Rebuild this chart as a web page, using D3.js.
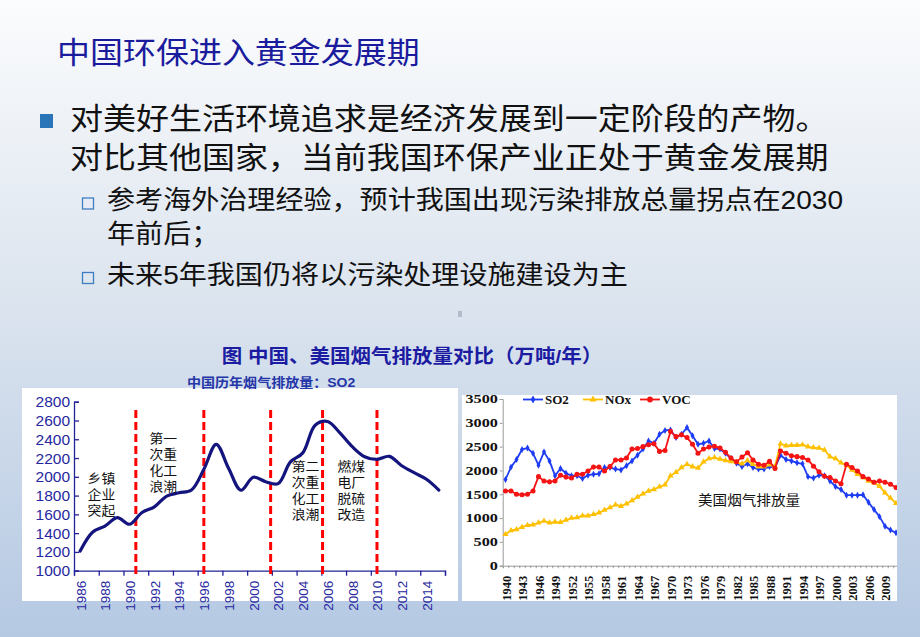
<!DOCTYPE html>
<html><head><meta charset="utf-8">
<script src="https://cdn.jsdelivr.net/npm/d3@7"></script>
<style>body{margin:0;overflow:hidden;background:#fff}svg{display:block}</style>
</head><body><svg id="c" width="920" height="637"></svg>
<script>
// ---------------- DATA ----------------
const slideTitle = "中国环保进入黄金发展期";
const bulletLines = ["对美好生活环境追求是经济发展到一定阶段的产物。", "对比其他国家，当前我国环保产业正处于黄金发展期"];
const subBullet1 = ["参考海外治理经验，预计我国出现污染排放总量拐点在2030", "年前后；"];
const subBullet2 = ["未来5年我国仍将以污染处理设施建设为主"];
const chartTitle = "图 中国、美国烟气排放量对比（万吨/年）";
const chinaSubtitle = "中国历年烟气排放量：SO2";

const chinaYears = d3.range(1986, 2016);
const chinaSO2 = [1210, 1410, 1475, 1565, 1495, 1620, 1680, 1795, 1830, 1860,
                  2080, 2346, 2090, 1857, 1995, 1948, 1927, 2159, 2255, 2549,
                  2589, 2468, 2321, 2214, 2185, 2218, 2118, 2044, 1974, 1859];
const chinaYTicks = [1000, 1200, 1400, 1600, 1800, 2000, 2200, 2400, 2600, 2800];
const chinaXLabels = d3.range(1986, 2015, 2);
const phaseYears = [1990.5, 1996, 2001.4, 2005.6, 2010];
const phaseNotes = [
  {year: 1986.6, top: 478, lines: ["乡镇", "企业", "突起"]},
  {year: 1991.6, top: 438, lines: ["第一", "次重", "化工", "浪潮"]},
  {year: 2003.1, top: 466, lines: ["第二", "次重", "化工", "浪潮"]},
  {year: 2006.8, top: 466, lines: ["燃煤", "电厂", "脱硫", "改造"]}
];

const usYears = d3.range(1940, 2012);
const usSO2 = [1810, 2070, 2230, 2440, 2470, 2360, 2110, 2390, 2200, 1890,
               2040, 1940, 1890, 1890, 1830, 1900, 1920, 1930, 2060, 2060,
               2030, 2010, 2100, 2200, 2320, 2450, 2620, 2570, 2760, 2840,
               2850, 2690, 2760, 2900, 2730, 2550, 2570, 2620, 2460, 2450,
               2360, 2250, 2150, 2080, 2140, 2060, 2030, 2030, 2080, 2060,
               2320, 2230, 2200, 2160, 2140, 1870, 1840, 1900, 1890, 1780,
               1660, 1600, 1480, 1480, 1480, 1490, 1330, 1180, 1030, 830,
               750, 690];
const usNOx = [660, 740, 760, 810, 850, 860, 900, 940, 900, 920,
               910, 960, 1000, 1010, 1050, 1050, 1080, 1110, 1170, 1220,
               1280, 1250, 1300, 1370, 1440, 1510, 1570, 1600, 1660, 1700,
               1890, 1960, 2060, 2130, 2080, 2050, 2180, 2250, 2270, 2240,
               2210, 2190, 2170, 2140, 2210, 2130, 2080, 2080, 2120, 2090,
               2560, 2520, 2530, 2530, 2540, 2500, 2480, 2470, 2430, 2290,
               2250, 2160, 2110, 2010, 1920, 1850, 1780, 1740, 1670, 1530,
               1420, 1310];
const usVOC = [1570, 1570, 1500, 1490, 1500, 1570, 1870, 1780, 1760, 1780,
               1900, 1860, 1840, 1920, 1920, 1990, 2070, 2070, 1990, 2080,
               2220, 2220, 2260, 2450, 2460, 2500, 2540, 2560, 2400, 2420,
               2820, 2710, 2750, 2690, 2550, 2360, 2450, 2490, 2510, 2470,
               2380, 2260, 2180, 2280, 2370, 2220, 2130, 2110, 2190, 2040,
               2410, 2360, 2310, 2290, 2270, 2220, 2090, 1970, 1880, 1850,
               1780, 1720, 2130, 2060, 1990, 1870, 1820, 1750, 1780, 1750,
               1710, 1640];
const usSeriesNames = ["SO2", "NOx", "VOC"];
const usYTicks = [0, 500, 1000, 1500, 2000, 2500, 3000, 3500];
const usXLabels = d3.range(1940, 2010, 3);
const usNote = "美国烟气排放量";

// ---------------- DRAW ----------------
const svg = d3.select("#c");
const CJK = "'Liberation Sans','Noto Sans CJK SC',sans-serif";
const defs = svg.append("defs");
const bg = defs.append("linearGradient").attr("id", "bg").attr("x1", 0).attr("y1", 0).attr("x2", 0).attr("y2", 1);
bg.append("stop").attr("offset", "0%").attr("stop-color", "#fbfcfd");
bg.append("stop").attr("offset", "45%").attr("stop-color", "#dde5ef");
bg.append("stop").attr("offset", "100%").attr("stop-color", "#b5c9e3");
svg.append("rect").attr("width", 920).attr("height", 637).attr("fill", "url(#bg)");

function stext(parent, x, y, str, o) {
  const sx = o.sx || 1.08;
  return parent.append("text")
    .attr("transform", `translate(${x},${y}) scale(${sx},1)`)
    .attr("text-anchor", o.anchor || "start")
    .attr("font-family", o.family || CJK)
    .attr("font-size", o.size)
    .attr("font-weight", o.weight || "normal")
    .attr("fill", o.fill || "#000")
    .text(str);
}

// Title & bullets
stext(svg, 57, 63, slideTitle, {size: 30, sx: 1.1, fill: "#1b1b9d"});
svg.append("rect").attr("x", 40).attr("y", 114).attr("width", 13).attr("height", 14).attr("fill", "#2a74b8");
bulletLines.forEach((t, i) => stext(svg, 70, 129 + i * 38.5, t, {size: 30, sx: 1.1, fill: "#111"}));
[198, 272.5].forEach(yy => {
  svg.append("rect").attr("x", 82.5).attr("y", yy).attr("width", 11).attr("height", 11)
    .attr("fill", "none").attr("stroke", "#3d7dc2").attr("stroke-width", 1.3);
});
subBullet1.forEach((t, i) => stext(svg, 107, 209 + i * 34, t, {size: 26, fill: "#111"}));
subBullet2.forEach(t => stext(svg, 107, 284, t, {size: 26, fill: "#111"}));
svg.append("rect").attr("x", 458).attr("y", 311).attr("width", 4).attr("height", 6).attr("fill", "#b3bccb");

// Chart title
stext(svg, 412, 363, chartTitle, {size: 19, weight: "bold", anchor: "middle", fill: "#1c1ca2"});

// ---------- Left chart (China) ----------
svg.append("rect").attr("x", 22).attr("y", 388).attr("width", 436).attr("height", 213).attr("fill", "#fff");
stext(svg, 187, 387, chinaSubtitle, {size: 13, weight: "bold", fill: "#2536a8"});
const L = svg.append("g");
const lx = d3.scaleLinear().domain([1985.5, 2015.5]).range([74, 445]);
const ly = d3.scaleLinear().domain([1000, 2800]).range([570.7, 401.7]);
const axisBlue = "#23239a";

const lyAxis = L.append("g").attr("transform", "translate(74,0)")
  .call(d3.axisLeft(ly).tickValues(chinaYTicks).tickSize(-5).tickPadding(4).tickFormat(d3.format("d")));
lyAxis.selectAll("path,line").attr("stroke", axisBlue).attr("stroke-width", 1.3);
lyAxis.selectAll("text").attr("font-family", "Arial,'Liberation Sans',sans-serif").attr("font-size", 15.5).attr("fill", "#2727a0");

const lxTicks = L.append("g").attr("transform", "translate(0,570.7)")
  .call(d3.axisBottom(lx).tickValues(d3.range(1985.5, 2016, 2)).tickSize(5).tickFormat(""));
lxTicks.selectAll("path,line").attr("stroke", axisBlue).attr("stroke-width", 1.3);
const lxLabels = L.append("g").attr("transform", "translate(0,570.7)")
  .call(d3.axisBottom(lx).tickValues(chinaXLabels).tickSize(0).tickFormat(d3.format("d")));
lxLabels.select(".domain").remove();
lxLabels.selectAll("text").attr("transform", "rotate(-90)").attr("text-anchor", "end")
  .attr("x", -10).attr("y", 0).attr("dy", "0.36em")
  .attr("font-family", "Arial,'Liberation Sans',sans-serif").attr("font-size", 13.5).attr("fill", "#2727a0");

L.selectAll(".phase").data(phaseYears).join("line").attr("class", "phase")
  .attr("x1", d => lx(d)).attr("x2", d => lx(d)).attr("y1", 410).attr("y2", 575)
  .attr("stroke", "#ff0000").attr("stroke-width", 3).attr("stroke-dasharray", "8,4");

L.append("path").datum(chinaYears.map((y, i) => [y, chinaSO2[i]]))
  .attr("d", d3.line().x(d => lx(d[0])).y(d => ly(d[1])).curve(d3.curveCatmullRom.alpha(0.5)))
  .attr("fill", "none").attr("stroke", "#14147e").attr("stroke-width", 3.2).attr("stroke-linecap", "round");

phaseNotes.forEach(n => {
  const t = L.append("text")
    .attr("transform", `translate(${lx(n.year)},${n.top + 5}) scale(1.08,1)`)
    .attr("font-family", CJK).attr("font-size", 12.8).attr("fill", "#111");
  n.lines.forEach((s, i) => t.append("tspan").attr("x", 0).attr("dy", i === 0 ? 0 : 15.9).text(s));
});

// ---------- Right chart (USA) ----------
svg.append("rect").attr("x", 462).attr("y", 395).attr("width", 435).attr("height", 206).attr("fill", "#fff");
defs.append("clipPath").attr("id", "rclip").append("rect").attr("x", 462).attr("y", 395).attr("width", 435).attr("height", 206);
const R = svg.append("g").attr("clip-path", "url(#rclip)");
const rx = d3.scaleLinear().domain([1939.5, 2011.2]).range([502.75, 897.1]);
const ry = d3.scaleLinear().domain([0, 3500]).range([565.7, 399]);
const TIMES = "'Liberation Serif','Times New Roman',serif";

const ryAxis = R.append("g").attr("transform", "translate(502.7,0)")
  .call(d3.axisLeft(ry).tickValues(usYTicks).tickSize(3).tickPadding(3).tickFormat(d3.format("d")));
ryAxis.selectAll("path,line").attr("stroke", "#9a9a9a").attr("stroke-width", 1);
ryAxis.selectAll("text").attr("x", -3.6).attr("transform", "scale(1.35,1)")
  .attr("font-family", TIMES).attr("font-weight", "bold").attr("font-size", 12).attr("fill", "#111");

const rxTicks = R.append("g").attr("transform", "translate(0,565.7)")
  .call(d3.axisBottom(rx).tickValues(d3.range(1939.5, 2011.5, 1)).tickSize(2.5).tickFormat(""));
rxTicks.selectAll("path,line").attr("stroke", "#9a9a9a").attr("stroke-width", 1);
const rxLabels = R.append("g").attr("transform", "translate(0,565.7)")
  .call(d3.axisBottom(rx).tickValues(usXLabels).tickSize(0).tickFormat(d3.format("d")));
rxLabels.select(".domain").remove();
rxLabels.selectAll("text").attr("transform", "rotate(-90)").attr("text-anchor", "end")
  .attr("x", -10).attr("y", 0).attr("dy", "0.36em")
  .attr("font-family", TIMES).attr("font-weight", "bold").attr("font-size", 12.5).attr("fill", "#111");

const seriesDefs = [
  {name: usSeriesNames[0], vals: usSO2, color: "#1f3cf5", sym: d3.symbolDiamond, size: 14},
  {name: usSeriesNames[1], vals: usNOx, color: "#ffc000", sym: d3.symbolTriangle, size: 16},
  {name: usSeriesNames[2], vals: usVOC, color: "#f51414", sym: d3.symbolCircle, size: 20}
];
const rline = d3.line().x(d => rx(d[0])).y(d => ry(d[1]));
seriesDefs.forEach(s => {
  const pts = usYears.map((y, i) => [y, s.vals[i]]);
  R.append("path").datum(pts).attr("d", rline).attr("fill", "none")
    .attr("stroke", s.color).attr("stroke-width", 1.8).attr("stroke-linejoin", "round");
  R.selectAll(null).data(pts).join("path")
    .attr("transform", d => `translate(${rx(d[0])},${ry(d[1])})`)
    .attr("d", d3.symbol().type(s.sym).size(s.size)).attr("fill", s.color);
});

// legend
const legX = [523, 583, 640];
seriesDefs.forEach((s, i) => {
  const g = R.append("g").attr("transform", `translate(${legX[i]},399.5)`);
  g.append("line").attr("x1", 0).attr("x2", 20).attr("stroke", s.color).attr("stroke-width", 1.8);
  g.append("path").attr("transform", "translate(10,0)").attr("d", d3.symbol().type(s.sym).size(s.size * 1.3)).attr("fill", s.color);
  g.append("text").attr("x", 22).attr("y", 4.5).attr("font-family", TIMES).attr("font-weight", "bold")
    .attr("font-size", 13).attr("fill", "#111").text(s.name);
});

stext(R, 698, 505, usNote, {size: 13.5, fill: "#111"});
</script></body></html>
